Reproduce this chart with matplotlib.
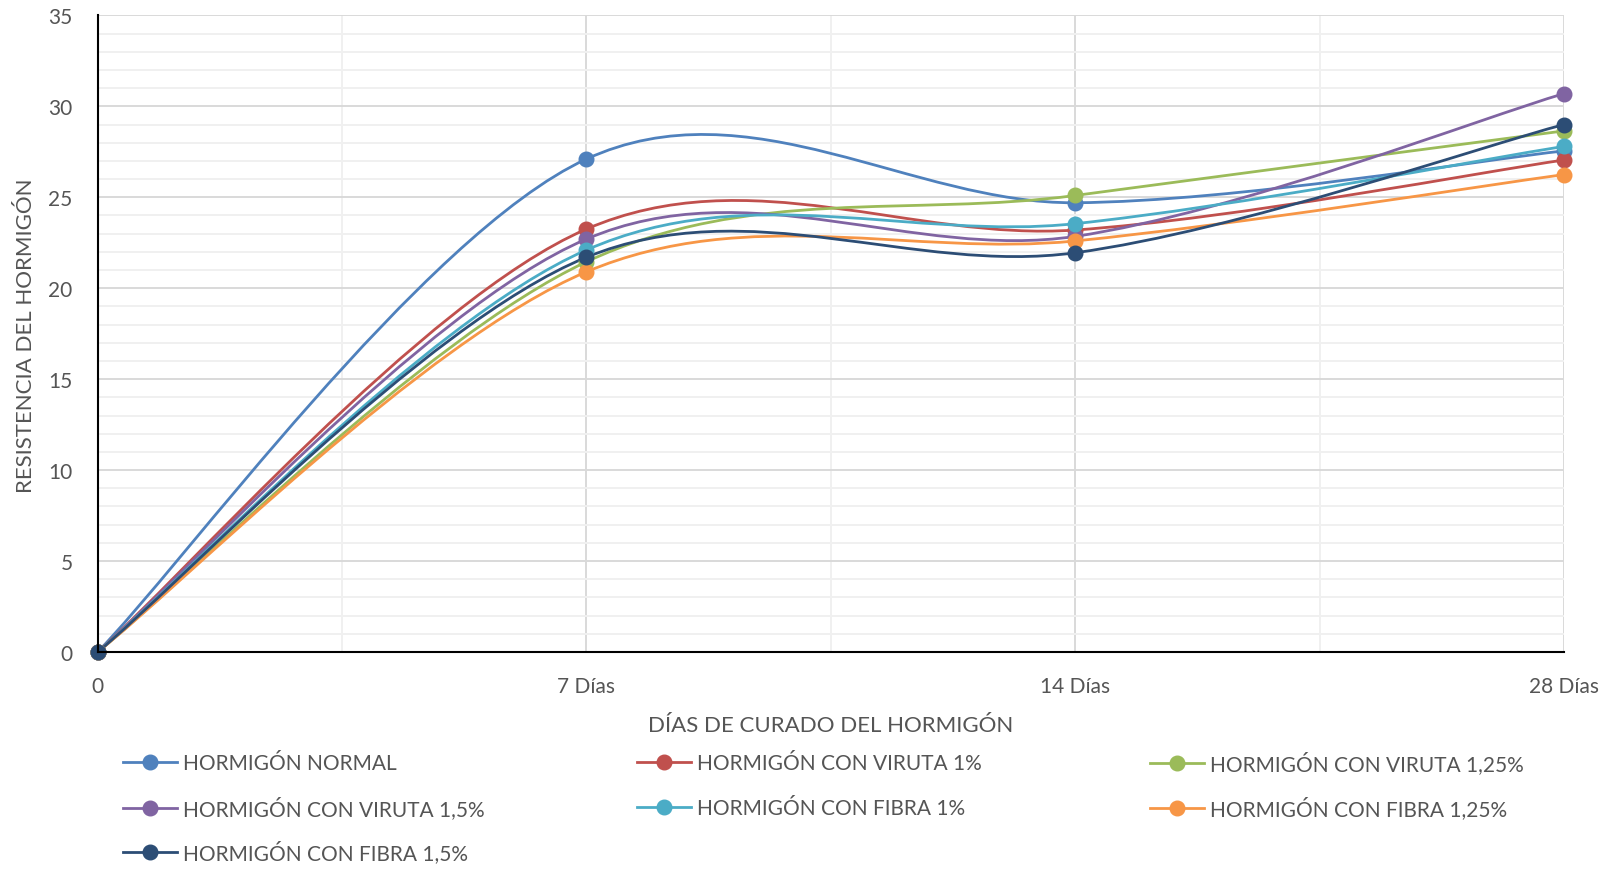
import numpy as np
import matplotlib.pyplot as plt
from matplotlib.path import Path
from matplotlib.patches import PathPatch
from matplotlib.lines import Line2D

plt.rcParams['font.family'] = ['Lato', 'DejaVu Sans']

# curing ages (categorical axis)
dias = ["0", "7 Días", "14 Días", "28 Días"]

# compressive strength per mix
normal = [0, 27.1, 24.7, 27.55]
viruta_1 = [0, 23.25, 23.2, 27.05]
viruta_125 = [0, 21.45, 25.1, 28.65]
viruta_15 = [0, 22.7, 22.85, 30.7]
fibra_1 = [0, 22.1, 23.55, 27.8]
fibra_125 = [0, 20.9, 22.6, 26.25]
fibra_15 = [0, 21.7, 21.95, 29.0]

nombres = ["HORMIGÓN NORMAL", "HORMIGÓN CON VIRUTA 1%", "HORMIGÓN CON VIRUTA 1,25%",
           "HORMIGÓN CON VIRUTA 1,5%", "HORMIGÓN CON FIBRA 1%", "HORMIGÓN CON FIBRA 1,25%",
           "HORMIGÓN CON FIBRA 1,5%"]
valores = [normal, viruta_1, viruta_125, viruta_15, fibra_1, fibra_125, fibra_15]
colores = ["#4F81BD", "#C0504D", "#9BBB59", "#8064A2", "#4BACC6", "#F79646", "#2C4D75"]

W, H = 1610, 870
TXT = "#555555"


def smooth_path(x, y):
    # cubic bezier through the points, same idea as a spreadsheet "smoothed line"
    pts = np.column_stack([x, y]).astype(float)
    n = len(pts)
    verts = [pts[0]]
    codes = [Path.MOVETO]
    for i in range(n - 1):
        p_prev = pts[max(i - 1, 0)]
        p0, p1 = pts[i], pts[i + 1]
        p_next = pts[min(i + 2, n - 1)]
        c1 = p0 + (p1 - p_prev) / 6
        c2 = p1 - (p_next - p0) / 6
        verts += [c1, c2, p1]
        codes += [Path.CURVE4] * 3
    return Path(verts, codes)


fig = plt.figure(figsize=(W / 100, H / 100), dpi=100)
ax = fig.add_axes([97.5 / W, 1 - 653 / H, (1564 - 97.5) / W, (653 - 16.4) / H])

x = np.arange(len(dias))
for vals, col in zip(valores, colores):
    ax.add_patch(PathPatch(smooth_path(x, vals), facecolor='none', edgecolor=col,
                           lw=2.0, zorder=3))
    ax.plot(x, vals, 'o', color=col, ms=10.5, zorder=4, clip_on=False)

ax.set_xlim(0, 3)
ax.set_ylim(0, 35)
ax.set_xticks(x)
ax.set_xticklabels(dias)
ax.set_xticks([0.5, 1.5, 2.5], minor=True)
ax.set_yticks(np.arange(0, 36, 5))
ax.set_yticks(np.arange(0, 36, 1), minor=True)
ax.grid(which='major', color='#D9D9D9', lw=1.4, zorder=1)
ax.grid(which='minor', color='#F0F0F0', lw=1.4, zorder=0)
ax.tick_params(which='both', length=0, labelsize=15, colors=TXT)
ax.tick_params(axis='x', pad=17)
ax.tick_params(axis='y', pad=18)

for s in ['top', 'right']:
    ax.spines[s].set_visible(False)
for s in ['left', 'bottom']:
    ax.spines[s].set_color('black')
    ax.spines[s].set_linewidth(1.5)
    ax.spines[s].set_zorder(5)

fig.text(831 / W, 1 - 726 / H, "DÍAS DE CURADO DEL HORMIGÓN", ha='center', va='center',
         fontsize=16, color=TXT)
fig.text(25.7 / W, 1 - 336 / H, "RESISTENCIA DEL HORMIGÓN", ha='center', va='center',
         rotation=90, fontsize=16, color=TXT)

# legend: three columns, row by row
col_x = [123, 637, 1150]
row_y = [764, 809, 853]
for i, (nom, col) in enumerate(zip(nombres, colores)):
    h = Line2D([], [], color=col, lw=2.0, marker='o', ms=10.5)
    fig.legend(handles=[h], labels=[nom], loc='center left',
               bbox_to_anchor=(col_x[i % 3] / W, 1 - row_y[i // 3] / H),
               frameon=False, fontsize=15, labelcolor=TXT, handlelength=2.6,
               handletextpad=0.3, borderpad=0, borderaxespad=0)

fig.savefig("out.png", dpi=100)
